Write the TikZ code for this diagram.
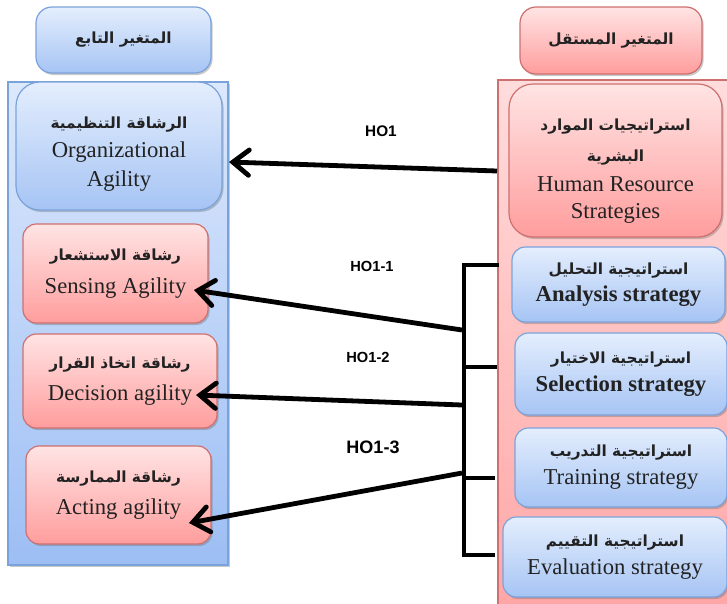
\documentclass[tikz,border=0pt]{standalone}
\usepackage{fontspec}
\setmainfont{Liberation Serif}
\newfontfamily\arabicfont[Script=Arabic]{DejaVu Sans}
\newfontfamily\hofont{Liberation Sans}
\TeXXeTstate=1
\usetikzlibrary{arrows.meta,shadows}
\newcommand{\artxt}[1]{{\arabicfont\bfseries\fontsize{11.5}{14}\selectfont\beginR #1\endR}}
\definecolor{bTop}{HTML}{E4EEFD}
\definecolor{bBot}{HTML}{A6C4F4}
\definecolor{bLine}{HTML}{7BA3DB}
\definecolor{pTop}{HTML}{FFE4E4}
\definecolor{pBot}{HTML}{FF9D9D}
\definecolor{pLine}{HTML}{CF7070}
\definecolor{cbTop}{HTML}{DCE8FC}
\definecolor{cbBot}{HTML}{9DBEF4}
\definecolor{cpTop}{HTML}{FFDCDC}
\definecolor{cpBot}{HTML}{FFA6A6}
\definecolor{txt}{HTML}{222222}
\tikzset{
  shad/.style={drop shadow={shadow xshift=1.2pt, shadow yshift=-1.5pt, opacity=0.35, fill=black!60}},
  lsp/.style={font=\fontsize{17}{#1}\selectfont},
  bluebox/.style={draw=bLine, line width=0.9pt, rounded corners=10pt, top color=bTop, bottom color=bBot, shad, align=center, inner sep=0pt, text=txt},
  pinkbox/.style={draw=pLine, line width=0.9pt, rounded corners=10pt, top color=pTop, bottom color=pBot, shad, align=center, inner sep=0pt, text=txt},
  boxtext/.style={align=center, inner sep=0pt, text=txt},
  arr/.style={line width=3.6pt, -{Straight Barb[length=12pt, width=19pt, line cap=round]}},
  brk/.style={line width=3.6pt},
  holab/.style={font=\hofont\bfseries\fontsize{11.5}{13}\selectfont}
}
\begin{document}
\begin{tikzpicture}[x=0.75pt, y=-0.75pt]
\clip (0,0) rectangle (727,603);
\fill[white] (0,0) rectangle (727,603);
% containers
\node[draw=bLine, line width=0.9pt, top color=cbTop, bottom color=cbBot, shad, minimum width=165pt, minimum height=362.25pt, inner sep=0pt] (contL) at (118,323.5) {};
\node[draw=pLine, line width=0.9pt, top color=cpTop, bottom color=cpBot, minimum width=186pt, minimum height=397.5pt, inner sep=0pt] (contR) at (622,345) {};
% headers
\node[bluebox, rounded corners=12pt, minimum width=131.25pt, minimum height=49.5pt] (hdrL) at (123.5,40) {\artxt{المتغير التابع}};
\node[pinkbox, rounded corners=12pt, minimum width=136.5pt, minimum height=50.25pt] (hdrR) at (611,40.5) {\artxt{المتغير المستقل}};
% left boxes
\node[bluebox, rounded corners=18pt, minimum width=154.5pt, minimum height=96pt] (org) at (119,146) {};
\node[boxtext, lsp=22] (orgT) at (119,154)
  {\artxt{الرشاقة التنظيمية}\\ Organizational\\ Agility};
\node[pinkbox, lsp=25, minimum width=138.75pt, minimum height=74.25pt] (sens) at (115.5,273.5)
  {\artxt{رشاقة الاستشعار}\\ Sensing Agility};
\node[pinkbox, lsp=24, minimum width=145.5pt, minimum height=70.5pt] (dec) at (120,381)
  {\artxt{رشاقة اتخاذ القرار}\\ Decision agility};
\node[pinkbox, lsp=24, minimum width=138.75pt, minimum height=73.5pt] (act) at (118.5,495)
  {\artxt{رشاقة الممارسة}\\ Acting agility};
% right boxes
\node[pinkbox, rounded corners=18pt, minimum width=159.75pt, minimum height=114.75pt] (hrs) at (615.5,160.5) {};
\node[boxtext, lsp=23] (hrsT) at (615.5,171)
  {\artxt{استراتيجيات الموارد}\\ \artxt{البشرية}\\ Human Resource\\[-3pt] Strategies};
\node[bluebox, lsp=20, minimum width=159.75pt, minimum height=56.25pt] (ana) at (618.5,284.5)
  {\artxt{استراتيجية التحليل}\\ \bfseries Analysis strategy};
\node[bluebox, lsp=21, minimum width=159pt, minimum height=61.5pt] (sel) at (621,374)
  {\artxt{استراتيجية الاختيار}\\ \bfseries Selection strategy};
\node[bluebox, lsp=21, minimum width=159pt, minimum height=59.25pt] (tra) at (621,467.5)
  {\artxt{استراتيجية التدريب}\\ Training strategy};
\node[bluebox, lsp=21, minimum width=168pt, minimum height=60pt] (eva) at (615,557)
  {\artxt{استراتيجية التقييم}\\ Evaluation strategy};
% bracket
\coordinate (bT) at (464,265);
\coordinate (bB) at (464,555);
\coordinate (t1) at (499,265);
\coordinate (t2) at (497,367);
\coordinate (b2) at (464,367);
\coordinate (t3) at (495,478);
\coordinate (b3) at (464,478);
\coordinate (t4) at (495,555);
\draw[brk] (t1) -- (bT) -- (bB) -- (t4);
\draw[brk] (b2) -- (t2);
\draw[brk] (b3) -- (t3);
% arrows
\coordinate (s0) at (497,171);
\coordinate (e0) at (229,162);
\coordinate (s1) at (462,330);
\coordinate (e1) at (194,290);
\coordinate (s2) at (462,405);
\coordinate (e2) at (196,395);
\coordinate (s3) at (462,473);
\coordinate (e3) at (189,523);
\draw[arr] (s0) -- (e0);
\draw[arr] (s1) -- (e1);
\draw[arr] (s2) -- (e2);
\draw[arr] (s3) -- (e3);
% labels
\node[holab] (h0) at (381,131) {HO1};
\node[holab, font=\hofont\bfseries\fontsize{11}{13}\selectfont] (h1) at (372,266) {HO1-1};
\node[holab, font=\hofont\bfseries\fontsize{11}{13}\selectfont] (h2) at (368,357) {HO1-2};
\node[holab, font=\hofont\bfseries\fontsize{13.5}{15}\selectfont] (h3) at (373,447) {HO1-3};
\end{tikzpicture}
\end{document}
